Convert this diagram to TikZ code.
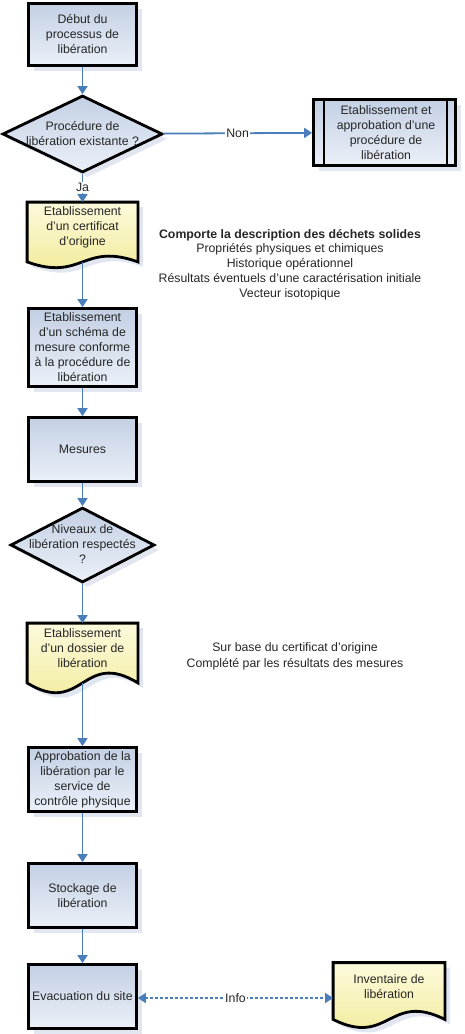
\documentclass[tikz,border=0pt]{standalone}
\usepackage{fontspec}
\setmainfont{Liberation Sans}
\usetikzlibrary{arrows.meta,shapes.geometric,shadows,calc}
\definecolor{boxtop}{HTML}{C3D0E4}
\definecolor{boxbot}{HTML}{EBF0F8}
\definecolor{doctop}{HTML}{FCFADC}
\definecolor{docbot}{HTML}{F1E992}
\definecolor{arr}{HTML}{4A7EBB}
\definecolor{shd}{HTML}{E1E6F0}
\definecolor{txt}{HTML}{262626}
\tikzset{
 lbl/.style={font=\fontsize{12.3}{15}\selectfont, text=txt, align=center, inner sep=0pt},
 shadowed/.style={drop shadow={shadow xshift=5pt, shadow yshift=-5pt, fill=shd, opacity=1}},
 procbox/.style={rectangle, draw=black, line width=2.8pt, top color=boxtop, bottom color=boxbot,
   minimum width=108pt, shadowed, lbl},
 decision/.style={diamond, draw=black, line width=2.8pt, top color=boxtop, bottom color=boxbot,
   inner sep=0pt, shadowed},
 docanchor/.style={rectangle, minimum width=108pt, inner sep=0pt, outer sep=1.4pt},
 docfill/.style={draw=black, line width=2.8pt, top color=doctop, bottom color=docbot, shadowed},
 conn/.style={draw=arr, line width=1.8pt, -{Triangle[width=10pt,length=8pt]}},
 infoconn/.style={draw=arr, line width=1.8pt, dash pattern=on 3pt off 2pt,
   {Triangle[width=10pt,length=8pt]}-{Triangle[width=10pt,length=8pt]}},
 onlabel/.style={lbl, fill=white, inner sep=1pt}
}
\newcommand\drawdocshape[2]{%
  \path[docfill] (#1.north west) -- (#1.north east) -- (#1.south east)
    .. controls ($(#1.south)+(0,-#2)$) and ($(#1.south)+(0,#2)$) .. (#1.south west) -- cycle;}
\begin{document}
\begin{tikzpicture}[x=1pt,y=-1pt]
\useasboundingbox (0,0) rectangle (464,1034);

% main column
\node[procbox, minimum height=62pt] (start) at (82.5,34.5) {Début du\\processus de\\libération};
\node[decision, minimum width=160pt, minimum height=77pt] (q1) at (82.5,134) {};
\node[lbl] (q1t) at (82.5,134) {Procédure de\\libération existante ?};

\node[procbox, minimum width=142pt, minimum height=66pt] (pp) at (384.5,132.5) {};
\draw[line width=2.2pt] ([xshift=12pt]pp.north west) -- ([xshift=12pt]pp.south west);
\draw[line width=2.2pt] ([xshift=-10pt]pp.north east) -- ([xshift=-10pt]pp.south east);
\node[lbl] (ppt) at (386,132.5) {Etablissement et\\approbation d’une\\procédure de\\libération};

\node[docanchor, minimum height=57pt] (doc1) at (82.5,232) {};
\drawdocshape{doc1}{20}
\node[lbl] (doc1t) at (82.5,227) {Etablissement\\d’un certificat\\d’origine};

\node[procbox, minimum height=78pt] (schema) at (82.5,347.5)
  {Etablissement\\d’un schéma de\\mesure conforme\\à la procédure de\\libération};
\node[procbox, minimum height=64pt] (mes) at (82.5,449.5) {Mesures};

\node[decision, minimum width=144pt, minimum height=75pt] (q2) at (82.5,545) {};
\node[lbl] (q2t) at (82.5,544) {Niveaux de\\libération respectés\\?};

\node[docanchor, minimum height=57pt] (doc2) at (82.5,653) {};
\drawdocshape{doc2}{34}
\node[lbl] (doc2t) at (82.5,648) {Etablissement\\d’un dossier de\\libération};

\node[procbox, minimum height=64pt] (appr) at (82.5,779.5)
  {Approbation de la\\libération par le\\service de\\contrôle physique};
\node[procbox, minimum height=64pt] (stock) at (82.5,895.5) {Stockage de\\libération};
\node[procbox, minimum height=64pt] (evac) at (82.5,996.5) {Evacuation du site};

\node[docanchor, minimum width=109pt, minimum height=54pt] (doc3) at (389,991) {};
\drawdocshape{doc3}{28}
\node[lbl] (doc3t) at (389,986.5) {Inventaire de\\libération};

% annotations
\node[lbl, font=\fontsize{12.3}{14.75}\selectfont] (note1) at (290,264.5)
  {\textbf{Comporte la description des déchets solides}\\Propriétés physiques et chimiques\\Historique opérationnel\\Résultats éventuels d’une caractérisation initiale\\Vecteur isotopique};
\node[lbl, font=\fontsize{12.3}{16}\selectfont] (note2) at (295,656)
  {Sur base du certificat d’origine\\Complété par les résultats des mesures};

% connectors
\draw[conn] (start) -- (q1);
\draw[conn] (q1) -- node[onlabel] {Non} (pp);
\draw[conn] (q1) -- node[onlabel, pos=0.48] {Ja} (doc1);
\draw[conn] (doc1.south) -- (schema);
\draw[conn] (schema) -- (mes);
\draw[conn] (mes) -- (q2);
\draw[conn] (q2) -- (doc2);
\draw[conn] (doc2.south) -- (appr);
\draw[conn] (appr) -- (stock);
\draw[conn] (stock) -- (evac);
\draw[infoconn] ([yshift=-1.5pt]evac.east) -- node[onlabel] {Info} ([yshift=-1.5pt]evac.east -| doc3.west);
\end{tikzpicture}
\end{document}
